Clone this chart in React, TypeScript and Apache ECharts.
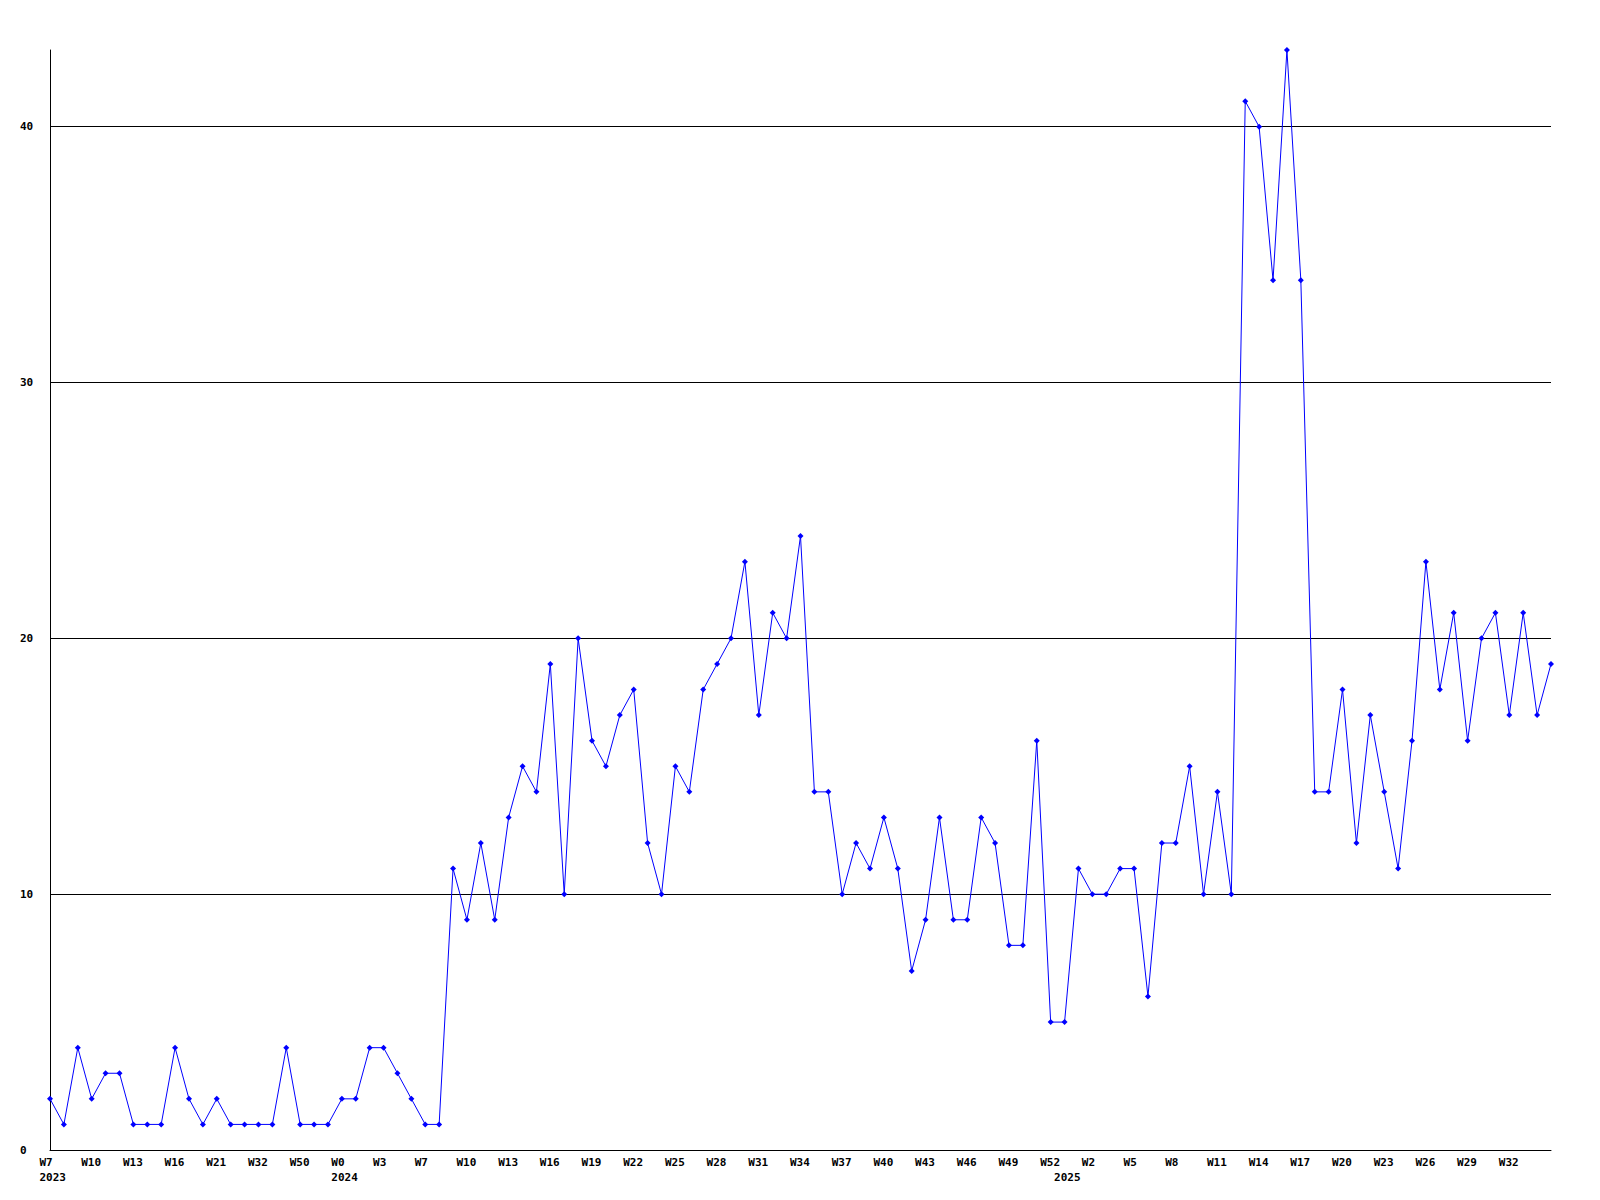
import React, { useEffect, useRef } from "react";
import * as echarts from "echarts";

// Year of each weekly point
const years: number[] = [
  2023, 2023, 2023, 2023, 2023, 2023, 2023, 2023, 2023, 2023, 2023, 2023, 2023, 2023, 2023, 2023, 2023, 2023, 2023, 2023, 2023,
  2024, 2024, 2024, 2024, 2024, 2024, 2024, 2024, 2024, 2024, 2024, 2024, 2024, 2024, 2024, 2024, 2024, 2024, 2024, 2024,
  2024, 2024, 2024, 2024, 2024, 2024, 2024, 2024, 2024, 2024, 2024, 2024, 2024, 2024, 2024, 2024, 2024, 2024, 2024, 2024,
  2024, 2024, 2024, 2024, 2024, 2024, 2024, 2024, 2024, 2024, 2024, 2024,
  2025, 2025, 2025, 2025, 2025, 2025, 2025, 2025, 2025, 2025, 2025, 2025, 2025, 2025, 2025, 2025, 2025, 2025, 2025, 2025,
  2025, 2025, 2025, 2025, 2025, 2025, 2025, 2025, 2025, 2025, 2025, 2025, 2025, 2025, 2025, 2025,
];

// Week number of each point
const weeks: number[] = [
  7, 8, 9, 10, 11, 12, 13, 14, 15, 16, 18, 20, 21, 24, 28, 32, 38, 45, 50, 51, 52,
  0, 1, 2, 3, 4, 6, 7, 8, 9, 10, 11, 12, 13, 14, 15, 16, 17, 18, 19, 20,
  21, 22, 23, 24, 25, 26, 27, 28, 29, 30, 31, 32, 33, 34, 35, 36, 37, 38, 39, 40,
  41, 42, 43, 44, 45, 46, 47, 48, 49, 50, 51, 52,
  0, 1, 2, 3, 4, 5, 6, 7, 8, 9, 10, 11, 12, 13, 14, 15, 16, 17, 18, 19,
  20, 21, 22, 23, 24, 25, 26, 27, 28, 29, 30, 31, 32, 33, 34, 35,
];

const values: number[] = [
  2, 1, 4, 2, 3, 3, 1, 1, 1, 4,
  2, 1, 2, 1, 1, 1, 1, 4, 1, 1,
  1, 2, 2, 4, 4, 3, 2, 1, 1, 11,
  9, 12, 9, 13, 15, 14, 19, 10, 20, 16,
  15, 17, 18, 12, 10, 15, 14, 18, 19, 20,
  23, 17, 21, 20, 24, 14, 14, 10, 12, 11,
  13, 11, 7, 9, 13, 9, 9, 13, 12, 8,
  8, 16, 5, 5, 11, 10, 10, 11, 11, 6,
  12, 12, 15, 10, 14, 10, 41, 40, 34, 43,
  34, 14, 14, 18, 12, 17, 14, 11, 16, 23,
  18, 21, 16, 20, 21, 17, 21, 17, 19,
];

const yMax = 43;
const yInterval = 10;
const labelEvery = 3;

const FONT = "DejaVu Sans Mono";

export default function App() {
  const ref = useRef<HTMLDivElement>(null);

  useEffect(() => {
    if (!ref.current) return;
    const chart = echarts.init(ref.current, undefined, { renderer: "svg" });
    const categories = years.map((y, i) => `${y}-W${weeks[i]}`);
    const yearStarts = years.map((y, i) => i === 0 || years[i - 1] !== y);
    const last = categories.length - 1;

    const labelText = {
      fontFamily: FONT,
      fontSize: 11,
      fontWeight: "bold" as const,
      color: "#000",
    };

    chart.setOption({
      animation: false,
      backgroundColor: "#fff",
      grid: { left: 50, right: 49, top: 50, bottom: 50, containLabel: false },
      xAxis: [
        {
          type: "category",
          data: categories,
          boundaryGap: false,
          axisLine: { show: true, lineStyle: { color: "#000", width: 1 } },
          axisTick: { show: false },
          splitLine: { show: false },
          axisLabel: {
            interval: (idx: number) => idx % labelEvery === 0 && idx !== last,
            margin: 7,
            ...labelText,
            formatter: (_v: string, idx: number) => `{w|W${weeks[idx]}}`,
            rich: { w: { ...labelText, width: 21, align: "left" } },
          },
        },
        {
          type: "category",
          data: categories,
          boundaryGap: false,
          position: "bottom",
          axisLine: { show: false },
          axisTick: { show: false },
          splitLine: { show: false },
          axisLabel: {
            interval: (idx: number) => yearStarts[idx],
            margin: 22,
            ...labelText,
            formatter: (_v: string, idx: number) => `{w|${years[idx]}}`,
            rich: { w: { ...labelText, width: 21, align: "left" } },
          },
        },
      ],
      yAxis: {
        type: "value",
        min: 0,
        max: yMax,
        interval: yInterval,
        axisLine: { show: true, lineStyle: { color: "#000", width: 1 } },
        axisTick: { show: false },
        splitLine: {
          show: true,
          showMinLine: false,
          showMaxLine: false,
          lineStyle: { color: "#000", width: 1, type: "solid" },
        },
        axisLabel: {
          showMaxLabel: false,
          align: "left",
          margin: 30,
          ...labelText,
        },
      },
      series: [
        {
          type: "line",
          xAxisIndex: 0,
          data: values,
          symbol: "diamond",
          symbolSize: 6,
          showSymbol: true,
          showAllSymbol: true,
          lineStyle: { color: "#0000ff", width: 1 },
          itemStyle: { color: "#0000ff", borderWidth: 0 },
          emphasis: { disabled: true },
        },
      ],
    });

    return () => chart.dispose();
  }, []);

  return (
    <div
      ref={ref}
      style={{ position: "absolute", left: 0, top: 0, width: 1600, height: 1200, background: "#fff" }}
    />
  );
}
